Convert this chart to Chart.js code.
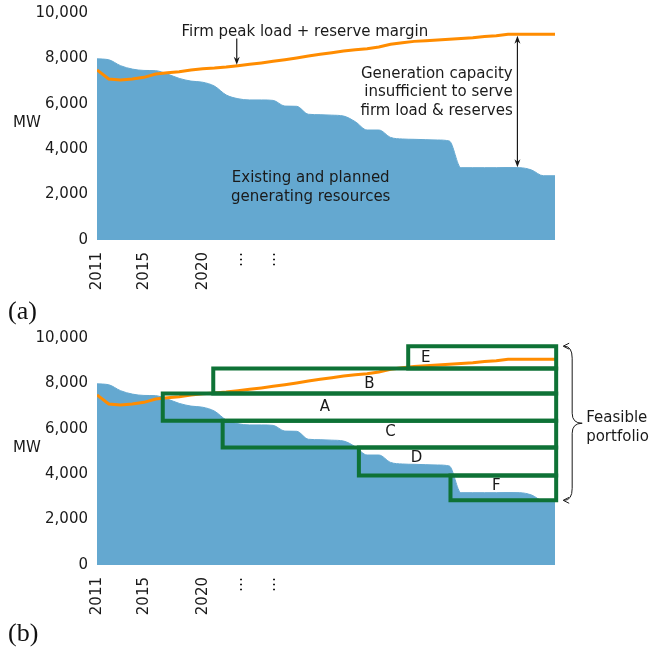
<!DOCTYPE html>
<html>
<head>
<meta charset="utf-8">
<script src="https://cdn.jsdelivr.net/npm/chart.js@4.4.1/dist/chart.umd.min.js"></script>
<style>
  body { margin: 0; background: #fff; width: 660px; height: 650px; position: relative; overflow: hidden; }
  .panel { position: absolute; left: 0; width: 660px; height: 300px; }
  #wrap-a { top: 0; }
  #wrap-b { top: 325px; }
  .tag { position: absolute; left: 8px; font-family: "Liberation Serif", serif; font-size: 26px; line-height: 26px; color: #111; }
</style>
</head>
<body>
<div class="panel" id="wrap-a"><canvas id="chart-a" width="660" height="300"></canvas></div>
<div class="panel" id="wrap-b"><canvas id="chart-b" width="660" height="300"></canvas></div>
<div class="tag" style="top:298px">(a)</div>
<div class="tag" style="top:620px">(b)</div>
<script>
// Years on the x axis
const years = [2011, 2012, 2013, 2014, 2015, 2016, 2017, 2018, 2019, 2020,
  2021, 2022, 2023, 2024, 2025, 2026, 2027, 2028, 2029, 2030,
  2031, 2032, 2033, 2034, 2035, 2036, 2037, 2038, 2039, 2040,
  2041, 2042, 2043, 2044, 2045, 2046, 2047, 2048, 2049, 2050];

// Existing and planned generating resources (MW)
const capacity = [7980, 7940, 7680, 7530, 7470, 7460, 7310, 7120, 7000, 6950,
  6780, 6390, 6225, 6170, 6170, 6150, 5900, 5890, 5540, 5520,
  5500, 5460, 5210, 4845, 4845, 4520, 4450, 4435, 4420, 4405,
  4360, 3185, 3185, 3185, 3185, 3190, 3185, 3085, 2830, 2830];

// Firm peak load + reserve margin (MW)
const peakLoad = [7490, 7090, 7050, 7090, 7165, 7310, 7370, 7415, 7490, 7545,
  7575, 7620, 7680, 7740, 7800, 7870, 7940, 8020, 8105, 8180,
  8250, 8325, 8385, 8430, 8500, 8620, 8690, 8750, 8780, 8810,
  8840, 8880, 8910, 8960, 9000, 9060, 9060, 9060, 9060, 9060];

// x tick positions and their labels
const tickYears = [2011, 2015, 2020, 2023, 2025.8];
const tickLabels = ['2011', '2015', '2020', '…', '…'];

// Portfolio blocks in panel (b)
const blockNames = ['E', 'B', 'A', 'C', 'D', 'F'];
const blockStart = [2037.5, 2020.9, 2016.6, 2021.7, 2033.3, 2041.1];
const blockEnd   = [2050.1, 2050.1, 2050.1, 2050.1, 2050.1, 2050.1];
const blockLow   = [8660, 7560, 6350, 5180, 3940, 2850];
const blockHigh  = [9640, 8660, 7560, 6350, 5180, 3940];
const blockLabelX = [2039.0, 2034.2, 2030.4, 2036.0, 2038.2, 2045.0];
const blockLabelY = [9124, 7985, 6964, 5839, 4700, 3473];

const FONT = '"DejaVu Sans", sans-serif';
const TEXT = '#1a1a1a';
const BLUE = '#64a8d0';
const ORANGE = '#ff8c00';
const GREEN = '#0e7236';

function arrowHead(ctx, x, y, dir) {
  // dir: -1 pointing up, 1 pointing down
  ctx.beginPath();
  ctx.moveTo(x, y);
  ctx.lineTo(x - 3, y - dir * 8);
  ctx.lineTo(x, y - dir * 5.5);
  ctx.lineTo(x + 3, y - dir * 8);
  ctx.closePath();
  ctx.fill();
}

function leftHead(ctx, x, y) {
  ctx.beginPath();
  ctx.moveTo(x + 6, y - 3);
  ctx.lineTo(x, y);
  ctx.lineTo(x + 6, y + 3);
  ctx.stroke();
}

// Draws the texts, arrows and brace given in data units
const notesPlugin = {
  id: 'notes',
  afterDatasetsDraw(chart, args, opts) {
    const { ctx, scales: { x, y }, chartArea } = chart;
    ctx.save();
    ctx.fillStyle = TEXT;
    ctx.strokeStyle = TEXT;
    ctx.font = '15px ' + FONT;
    ctx.textBaseline = 'middle';
    ctx.textAlign = 'center';
    ctx.fillText('MW', 27, (chartArea.top + chartArea.bottom) / 2 - 3);

    (opts.texts || []).forEach(t => {
      ctx.textAlign = t.align || 'center';
      ctx.fillText(t.text, x.getPixelForValue(t.x), y.getPixelForValue(t.y));
    });

    ctx.lineWidth = 1.2;
    (opts.arrows || []).forEach(a => {
      const px = x.getPixelForValue(a.x);
      const y1 = y.getPixelForValue(a.from);
      const y2 = y.getPixelForValue(a.to);
      ctx.beginPath();
      ctx.moveTo(px, a.both ? y1 + 4 : y1);
      ctx.lineTo(px, y2 - 4);
      ctx.stroke();
      arrowHead(ctx, px, y2, 1);
      if (a.both) arrowHead(ctx, px, y1, -1);
    });

    if (opts.brace) {
      const b = opts.brace;
      const xl = x.getPixelForValue(b.x) + 8;
      const xs = xl + 8;
      const xt = xl + 18;
      const yt = y.getPixelForValue(b.top);
      const yb = y.getPixelForValue(b.bottom);
      const ym = (yt + yb) / 2;
      ctx.lineWidth = 1;
      ctx.beginPath();
      ctx.moveTo(xl, yt);
      ctx.quadraticCurveTo(xs, yt, xs, yt + 12);
      ctx.lineTo(xs, ym - 10);
      ctx.quadraticCurveTo(xs, ym, xt, ym);
      ctx.quadraticCurveTo(xs, ym, xs, ym + 10);
      ctx.lineTo(xs, yb - 12);
      ctx.quadraticCurveTo(xs, yb, xl, yb);
      ctx.stroke();
      leftHead(ctx, xl - 1, yt);
      leftHead(ctx, xl - 1, yb);
      ctx.textAlign = 'left';
      ctx.fillText('Feasible', xt + 4, ym - 5);
      ctx.fillText('portfolio', xt + 4, ym + 14);
    }

    if (opts.blocks) {
      ctx.textAlign = 'center';
      blockNames.forEach((n, i) => {
        ctx.fillText(n, x.getPixelForValue(blockLabelX[i]), y.getPixelForValue(blockLabelY[i]));
      });
    }
    ctx.restore();
  }
};

function baseDatasets() {
  return [
    {
      label: 'Firm peak load + reserve margin',
      data: peakLoad,
      borderColor: ORANGE,
      borderWidth: 3,
      pointRadius: 0,
      tension: 0,
      fill: false,
      order: 1
    },
    {
      label: 'Existing and planned generating resources',
      data: capacity,
      borderColor: BLUE,
      borderWidth: 1,
      backgroundColor: BLUE,
      pointRadius: 0,
      cubicInterpolationMode: 'monotone',
      fill: 'origin',
      order: 2
    }
  ];
}

function blockDatasets() {
  return blockNames.map((n, i) => ({
    label: 'Block ' + n,
    data: [
      { x: blockStart[i], y: blockLow[i] },
      { x: blockEnd[i], y: blockLow[i] },
      { x: blockEnd[i], y: blockHigh[i] },
      { x: blockStart[i], y: blockHigh[i] },
      { x: blockStart[i], y: blockLow[i] }
    ],
    borderColor: GREEN,
    borderWidth: 4,
    borderJoinStyle: 'miter',
    borderCapStyle: 'square',
    pointRadius: 0,
    tension: 0,
    fill: false,
    clip: false,
    order: 0
  }));
}

function makeOptions(notes) {
  return {
    responsive: false,
    animation: false,
    devicePixelRatio: 1,
    layout: { padding: { left: 7, right: 105, top: 13, bottom: 0 } },
    plugins: {
      legend: { display: false },
      tooltip: { enabled: false },
      notes: notes
    },
    scales: {
      x: {
        type: 'linear',
        min: 2011,
        max: 2050,
        grid: { display: false, drawTicks: false },
        border: { display: false },
        afterBuildTicks: scale => { scale.ticks = tickYears.map(v => ({ value: v })); },
        afterFit: scale => {
          scale.height = 60;
          scale.paddingLeft = 0;
          scale.paddingRight = 0;
        },
        ticks: {
          autoSkip: false,
          minRotation: 90,
          maxRotation: 90,
          padding: 12,
          color: TEXT,
          font: { family: FONT, size: 15 },
          callback: (value, index) => tickLabels[index]
        }
      },
      y: {
        min: 0,
        max: 10000,
        grid: { display: false, drawTicks: false },
        border: { display: false },
        afterFit: scale => {
          scale.width = 90;
          scale.paddingTop = 0;
          scale.paddingBottom = 0;
        },
        ticks: {
          stepSize: 2000,
          padding: 9,
          color: TEXT,
          font: { family: FONT, size: 15 },
          callback: v => v.toLocaleString('en-US')
        }
      }
    }
  };
}

new Chart(document.getElementById('chart-a'), {
  type: 'line',
  data: { labels: years, datasets: baseDatasets() },
  options: makeOptions({
    texts: [
      { text: 'Firm peak load + reserve margin', x: 2028.7, y: 9175 },
      { text: 'Generation capacity', x: 2046.4, y: 7323, align: 'right' },
      { text: 'insufficient to serve', x: 2046.4, y: 6498, align: 'right' },
      { text: 'firm load & reserves', x: 2046.4, y: 5690, align: 'right' },
      { text: 'Existing and planned', x: 2029.2, y: 2735 },
      { text: 'generating resources', x: 2029.2, y: 1897 }
    ],
    arrows: [
      { x: 2022.9, from: 8880, to: 7720 },
      { x: 2046.8, from: 9000, to: 3200, both: true }
    ]
  }),
  plugins: [notesPlugin]
});

new Chart(document.getElementById('chart-b'), {
  type: 'line',
  data: { labels: years, datasets: blockDatasets().concat(baseDatasets()) },
  options: makeOptions({
    blocks: true,
    brace: { x: 2050.1, top: Math.max(...blockHigh), bottom: Math.min(...blockLow) }
  }),
  plugins: [notesPlugin]
});
</script>
</body>
</html>
